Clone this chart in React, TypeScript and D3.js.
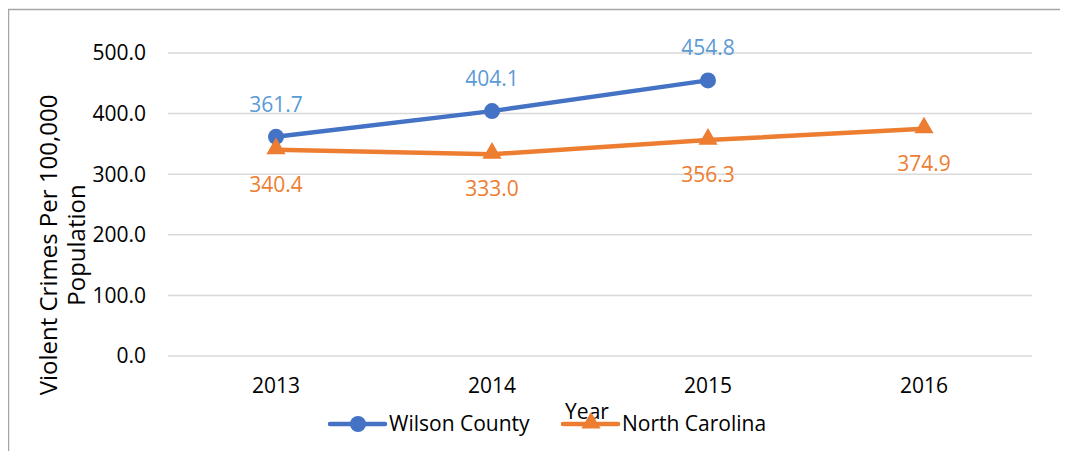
import React from "react";
import * as d3 from "d3";

const years = ["2013", "2014", "2015", "2016"];
const wilson = [361.7, 404.1, 454.8];
const northCarolina = [340.4, 333.0, 356.3, 374.9];
const yTicks = [0, 100, 200, 300, 400, 500];

const BLUE = "#4472C4";
const BLUE_LABEL = "#5B9BD5";
const ORANGE = "#ED7D31";
const FONT = "'Open Sans', sans-serif";
const FS = 21;

export default function App() {
  const width = 1068;
  const height = 459;
  const plot = { left: 168, right: 1032, top: 53, bottom: 356 };

  const x = d3.scaleBand().domain(years).range([plot.left, plot.right]);
  const y = d3.scaleLinear().domain([0, 500]).range([plot.bottom, plot.top]);
  const cx = (i: number) => (x(years[i]) as number) + x.bandwidth() / 2;

  const line = d3.line<number>().x((_, i) => cx(i)).y((d) => y(d));
  const tri = d3.symbol().type(d3.symbolTriangle).size(160);

  return (
    <div style={{ margin: -8 }}>
      <svg width={width} height={height} style={{ display: "block", fontFamily: FONT }}>
        <rect x={0} y={0} width={width} height={height} fill="#fff" />
        <rect x={8.5} y={9.5} width={width + 10} height={height + 10} fill="none" stroke="#A6A6A6" strokeWidth={1.5} />

        {yTicks.map((t) => (
          <g key={t}>
            <line x1={plot.left} x2={plot.right} y1={y(t)} y2={y(t)} stroke="#D9D9D9" strokeWidth={1.5} />
            <text x={146} y={y(t)} dy="0.35em" textAnchor="end" fontSize={FS} fill="#000">
              {t.toFixed(1)}
            </text>
          </g>
        ))}

        {years.map((yr, i) => (
          <text key={yr} x={cx(i)} y={393} textAnchor="middle" fontSize={FS} fill="#000">
            {yr}
          </text>
        ))}

        <text x={587} y={419} textAnchor="middle" fontSize={FS} fill="#000">Year</text>

        <text transform={`translate(57,245) rotate(-90)`} textAnchor="middle" fontSize={24} fill="#000">
          Violent Crimes Per 100,000
        </text>
        <text transform={`translate(85,245) rotate(-90)`} textAnchor="middle" fontSize={24} fill="#000">
          Population
        </text>

        <path d={line(wilson) || ""} fill="none" stroke={BLUE} strokeWidth={4.5} strokeLinecap="round" />
        {wilson.map((v, i) => (
          <g key={i}>
            <circle cx={cx(i)} cy={y(v)} r={8} fill={BLUE} />
            <text x={cx(i)} y={y(v) - 25} textAnchor="middle" fontSize={FS} fill={BLUE_LABEL}>
              {v.toFixed(1)}
            </text>
          </g>
        ))}

        <path d={line(northCarolina) || ""} fill="none" stroke={ORANGE} strokeWidth={4.5} strokeLinecap="round" />
        {northCarolina.map((v, i) => (
          <g key={i}>
            <path d={tri() || ""} transform={`translate(${cx(i)},${y(v) - 1})`} fill={ORANGE} />
            <text x={cx(i)} y={y(v) + 42} textAnchor="middle" fontSize={FS} fill={ORANGE}>
              {v.toFixed(1)}
            </text>
          </g>
        ))}

        <g transform="translate(330,424)">
          <line x1={0} x2={55} y1={0} y2={0} stroke={BLUE} strokeWidth={4.5} strokeLinecap="round" />
          <circle cx={28} cy={0} r={8} fill={BLUE} />
          <text x={59} y={0} dy="0.35em" fontSize={FS} fill="#000">Wilson County</text>
        </g>
        <g transform="translate(563,424)">
          <line x1={0} x2={55} y1={0} y2={0} stroke={ORANGE} strokeWidth={4.5} strokeLinecap="round" />
          <path d={tri() || ""} transform="translate(28,-1)" fill={ORANGE} />
          <text x={59} y={0} dy="0.35em" fontSize={FS} fill="#000">North Carolina</text>
        </g>
      </svg>
    </div>
  );
}
